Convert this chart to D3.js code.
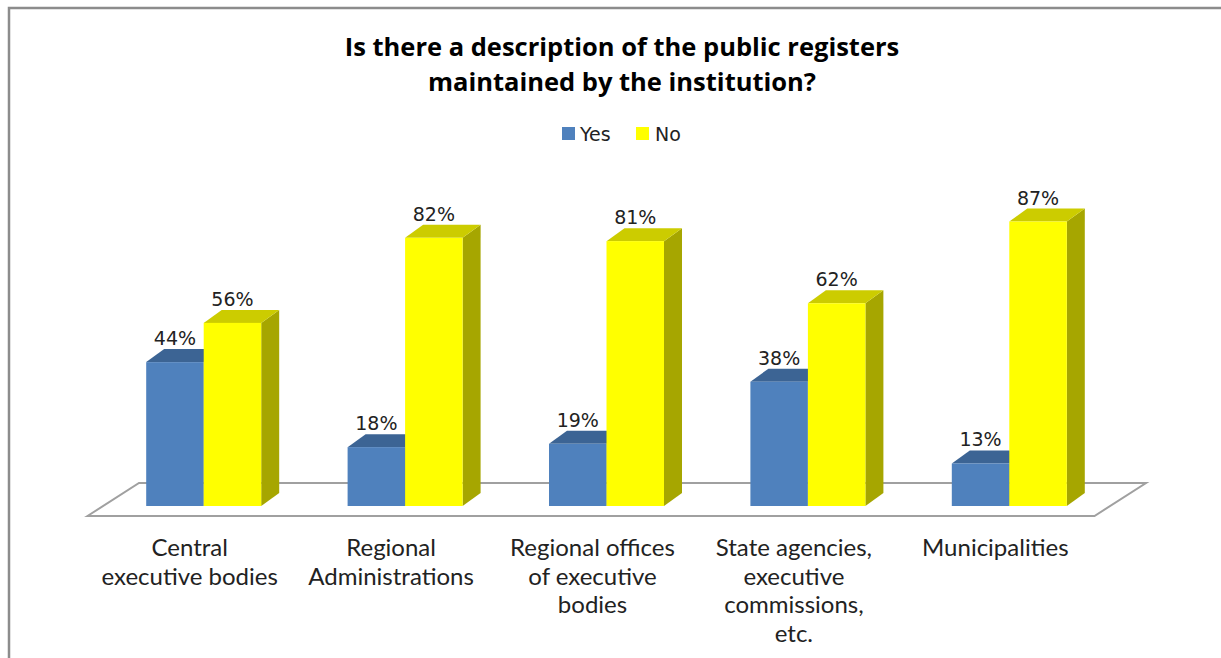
<!DOCTYPE html>
<html>
<head>
<meta charset="utf-8">
<script src="https://cdn.jsdelivr.net/npm/d3@7"></script>
<style>
  html, body { margin: 0; padding: 0; background: #ffffff; }
  svg { display: block; }
</style>
</head>
<body>
<svg id="chart" width="1221" height="658"></svg>
<script>
// Survey answers per institution type (percent)
const categories = [
  "Central executive bodies",
  "Regional Administrations",
  "Regional offices of executive bodies",
  "State agencies, executive commissions, etc.",
  "Municipalities"
];
const categoryLines = [
  ["Central", "executive bodies"],
  ["Regional", "Administrations"],
  ["Regional offices", "of executive", "bodies"],
  ["State agencies,", "executive", "commissions,", "etc."],
  ["Municipalities"]
];
const seriesNames = ["Yes", "No"];
const yesValues = [44, 18, 19, 38, 13];
const noValues = [56, 82, 81, 62, 87];
const titleLines = ["Is there a description of the public registers", "maintained by the institution?"];

const colors = {
  Yes: { front: "#4f81bd", top: "#3c6494", side: "#2f5585" },
  No:  { front: "#ffff00", top: "#cccc00", side: "#a6a600" }
};

const svg = d3.select("#chart");
const W = 1221, H = 658;

// Outer frame (top and left edges visible)
svg.append("path")
  .attr("d", `M9,${H + 5} L9,8 L${W + 5},8`)
  .attr("fill", "none")
  .attr("stroke", "#8c8c8c")
  .attr("stroke-width", 2.5);

// Title
const title = svg.append("text")
  .attr("text-anchor", "middle")
  .attr("font-family", "'Open Sans', Lato, sans-serif")
  .attr("font-weight", "bold")
  .attr("font-size", 25.5)
  .attr("fill", "#000");
titleLines.forEach((t, i) => {
  title.append("tspan").attr("x", 622).attr("y", 56 + i * 35).text(t);
});

// Legend
const legendItems = [
  { name: "Yes", x: 562, textX: 580 },
  { name: "No", x: 636, textX: 655 }
];
const legend = svg.append("g");
legendItems.forEach(d => {
  legend.append("rect")
    .attr("x", d.x).attr("y", 127).attr("width", 13).attr("height", 13)
    .attr("fill", colors[d.name].front);
  legend.append("text")
    .attr("x", d.textX).attr("y", 141)
    .attr("font-family", "'DejaVu Sans', Verdana, sans-serif")
    .attr("font-size", 19)
    .attr("fill", "#222")
    .text(d.name);
});

// Scales
const x = d3.scaleBand().domain(categories).range([103, 1110]).paddingInner(0).paddingOuter(0);
const groupWidth = 115;
const xInner = d3.scaleBand().domain(seriesNames).range([0, groupWidth]);
const y = d3.scaleLinear().domain([0, 100]).range([506, 179]);

// 3D depth offsets
const depthX = 18, depthY = -13;
const base = y(0);

// Floor (parallelogram)
const floorFront = { dx: -15.5, dy: 10 };
const floorBack = { dx: 36, dy: -23 };
const x0 = x.range()[0], x1 = x.range()[1];
const floorPts = [
  [x0 + floorFront.dx, base + floorFront.dy],
  [x0 + floorBack.dx, base + floorBack.dy],
  [x1 + floorBack.dx, base + floorBack.dy],
  [x1 + floorFront.dx, base + floorFront.dy]
];
svg.append("path")
  .attr("d", d3.line()(floorPts) + "Z")
  .attr("fill", "#ffffff")
  .attr("stroke", "#a0a0a0")
  .attr("stroke-width", 2);

// Bars
const rows = categories.map((c, i) => ({
  category: c,
  values: [
    { name: "Yes", value: yesValues[i] },
    { name: "No", value: noValues[i] }
  ]
}));

const groups = svg.append("g").selectAll("g")
  .data(rows).join("g")
  .attr("transform", d => `translate(${x(d.category) + (x.bandwidth() - groupWidth) / 2},0)`);

groups.each(function(row) {
  const g = d3.select(this);
  row.values.forEach(v => {
    const bx = xInner(v.name), bw = xInner.bandwidth();
    const top = y(v.value);
    const c = colors[v.name];
    // side face
    g.append("path")
      .attr("d", d3.line()([[bx + bw, top], [bx + bw + depthX, top + depthY],
        [bx + bw + depthX, base + depthY], [bx + bw, base]]) + "Z")
      .attr("fill", c.side);
    // top face
    g.append("path")
      .attr("d", d3.line()([[bx, top], [bx + depthX, top + depthY],
        [bx + bw + depthX, top + depthY], [bx + bw, top]]) + "Z")
      .attr("fill", c.top);
    // front face
    g.append("rect")
      .attr("x", bx).attr("y", top)
      .attr("width", bw).attr("height", base - top)
      .attr("fill", c.front);
  });
  // value labels
  row.values.forEach(v => {
    g.append("text")
      .attr("x", xInner(v.name) + xInner.bandwidth() / 2)
      .attr("y", y(v.value) - 17)
      .attr("text-anchor", "middle")
      .attr("font-family", "'DejaVu Sans', Verdana, sans-serif")
      .attr("font-size", 19)
      .attr("fill", "#222")
      .text(v.value + "%");
  });
});

// Category labels
const catG = svg.append("g");
categories.forEach((c, i) => {
  const t = catG.append("text")
    .attr("text-anchor", "middle")
    .attr("font-family", "Lato, 'Open Sans', sans-serif")
    .attr("font-size", 24)
    .attr("fill", "#222");
  categoryLines[i].forEach((line, j) => {
    t.append("tspan")
      .attr("x", x(c) + x.bandwidth() / 2 - 14)
      .attr("y", 556 + j * 28.5)
      .text(line);
  });
});
</script>
</body>
</html>
